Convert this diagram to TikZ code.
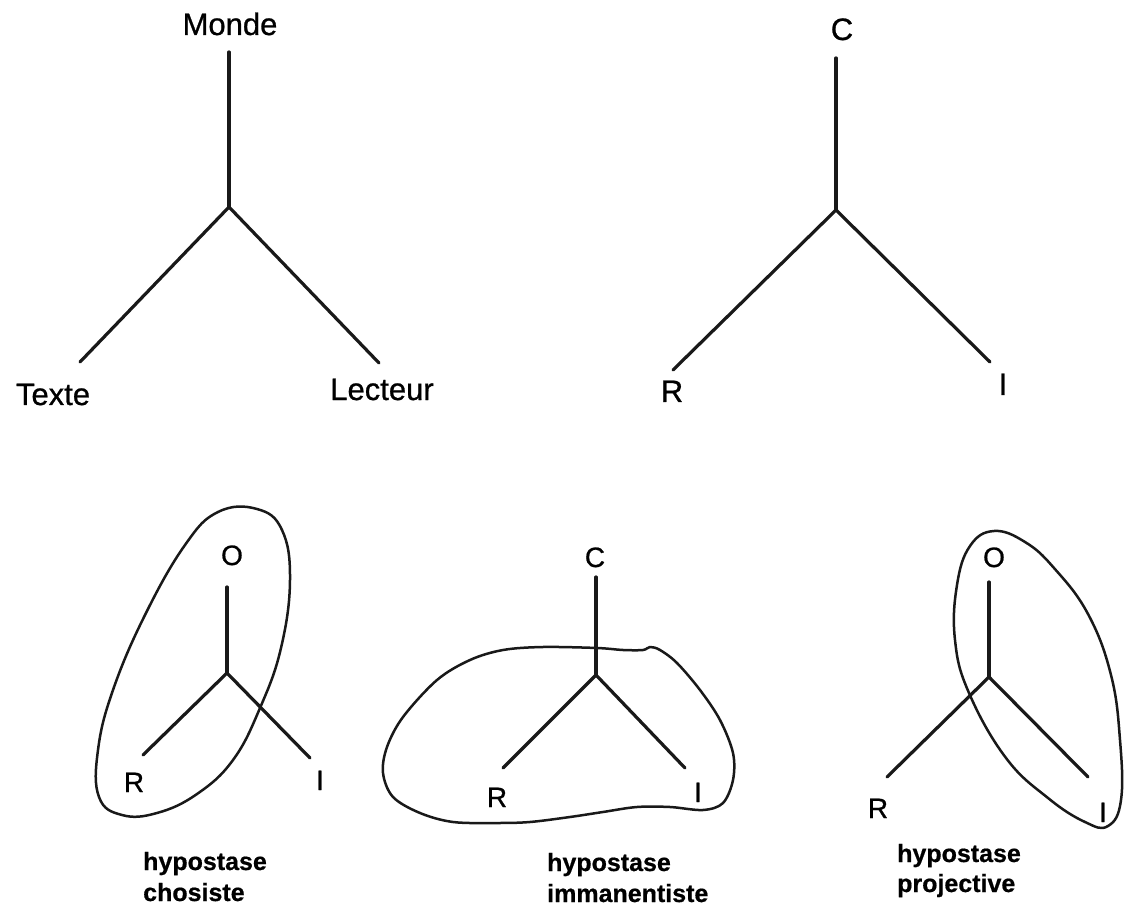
\documentclass[tikz,border=0pt]{standalone}
\usepackage{fontspec}
\setmainfont[FakeBold=0.8]{Liberation Sans}
\newfontfamily\capfont[FakeBold=0.6]{Liberation Sans Bold}
\begin{document}
\begin{tikzpicture}[x=1pt,y=-1pt,line cap=round,line join=round,
  branch/.style={line width=3.2pt,draw=black!90},
  halo/.style={line width=2.5pt,draw=black!90},
  biglab/.style={font=\fontsize{31}{37}\selectfont,anchor=base,inner sep=0pt,text=black},
  smalllab/.style={font=\fontsize{28}{33}\selectfont,anchor=base,inner sep=0pt,text=black},
  caplab/.style={font=\capfont\fontsize{25}{30}\selectfont,anchor=base west,inner sep=0pt,text=black}]
\useasboundingbox[fill=white] (0,0) rectangle (1125,909);

% ---------- Diagram 1 : Monde / Texte / Lecteur ----------
\node[biglab] (monde) at (230,35) {Monde};
\node[biglab] (texte) at (53,405) {Texte};
\node[biglab] (lecteur) at (382,400) {Lecteur};
\coordinate (m1) at (229,52);
\coordinate (j1) at (229,207);
\coordinate (t1) at (80,362);
\coordinate (l1) at (379,363);
\draw[branch] (m1) -- (j1);
\draw[branch] (t1) -- (j1) -- (l1);

% ---------- Diagram 2 : C / R / I ----------
\node[biglab] (c2) at (842,40) {C};
\node[biglab] (r2) at (672,402) {R};
\node[biglab] (i2) at (1003,395) {I};
\coordinate (m2) at (836,58);
\coordinate (j2) at (836,210);
\coordinate (r2e) at (673,370);
\coordinate (i2e) at (990,362);
\draw[branch] (m2) -- (j2);
\draw[branch] (r2e) -- (j2) -- (i2e);

% ---------- Diagram 3 : hypostase chosiste ----------
\node[smalllab] (o3) at (232,565) {O};
\node[smalllab] (r3) at (134,792) {R};
\node[smalllab] (i3) at (320,790) {I};
\coordinate (m3) at (227,587);
\coordinate (j3) at (227,673);
\coordinate (r3e) at (143,755);
\coordinate (i3e) at (310,758);
\draw[branch] (m3) -- (j3);
\draw[branch] (r3e) -- (j3) -- (i3e);
\draw[halo] plot[smooth cycle,tension=0.7] coordinates {
  (218,512) (257,509) (282,530) (290,580) (281,648) (260,708) (233,760)
  (197,794) (157,813) (122,815) (99,797) (98,750) (113,690) (145,615) (185,545)};
\node[caplab] (cap3a) at (143,870) {hypostase};
\node[caplab] (cap3b) at (143,901) {chosiste};

% ---------- Diagram 4 : hypostase immanentiste ----------
\node[smalllab] (c4) at (595,567) {C};
\node[smalllab] (r4) at (497,807) {R};
\node[smalllab] (i4) at (698,802) {I};
\coordinate (m4) at (596,577);
\coordinate (j4) at (596,675);
\coordinate (r4e) at (503,768);
\coordinate (i4e) at (685,768);
\draw[branch] (m4) -- (j4);
\draw[branch] (r4e) -- (j4) -- (i4e);
\draw[halo] plot[smooth cycle,tension=0.55] coordinates {
  (597,648) (623,650) (643,650) (650,647) (660,650) (677,663) (700,690)
  (720,720) (733,753) (733,780) (723,803) (703,810) (670,807) (637,807)
  (603,812) (570,817) (530,822) (497,823) (453,822) (420,813) (393,797)
  (383,773) (387,747) (403,717) (437,680) (470,660) (503,650) (543,647)};
\node[caplab] (cap4a) at (547,871) {hypostase};
\node[caplab] (cap4b) at (547,902) {immanentiste};

% ---------- Diagram 5 : hypostase projective ----------
\node[smalllab] (o5) at (994,567) {O};
\node[smalllab] (r5) at (878,818) {R};
\node[smalllab] (i5) at (1103,822) {I};
\coordinate (m5) at (989,582);
\coordinate (j5) at (989,677);
\coordinate (r5e) at (887,777);
\coordinate (i5e) at (1088,777);
\draw[branch] (m5) -- (j5);
\draw[branch] (r5e) -- (j5) -- (i5e);
\draw[halo] plot[smooth cycle,tension=0.7] coordinates {
  (994,531) (1025,542) (1054,568) (1088,614) (1111,675) (1120,740)
  (1121,800) (1108,826) (1085,822) (1048,798) (1006,758) (969,693)
  (955,640) (957,585) (970,546)};
\node[caplab] (cap5a) at (897,862) {hypostase};
\node[caplab] (cap5b) at (897,892) {projective};
\end{tikzpicture}
\end{document}
